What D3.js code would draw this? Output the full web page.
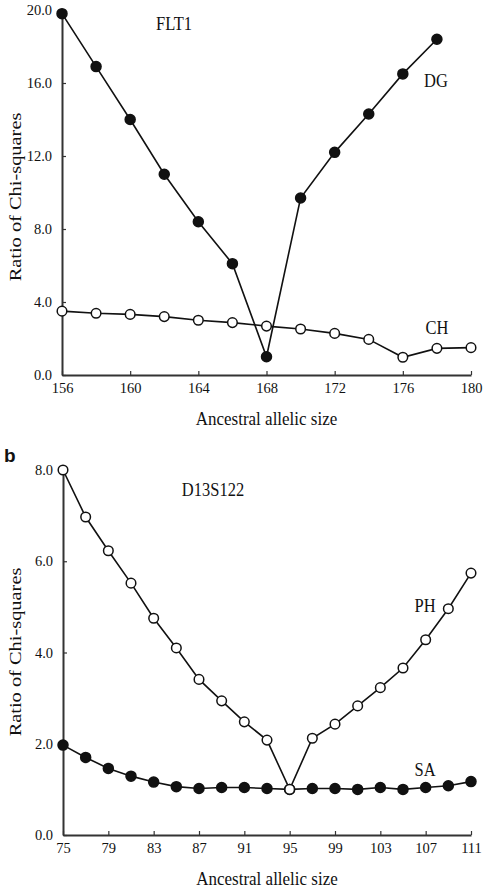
<!DOCTYPE html>
<html>
<head>
<meta charset="utf-8">
<script src="https://cdn.jsdelivr.net/npm/d3@7"></script>
<style>
  body { margin: 0; background: #fff; }
  svg text { font-family: "Liberation Serif", "Times New Roman", serif; fill: #111; }
</style>
</head>
<body>
<svg id="chart" width="484" height="892"></svg>
<script>
// panel a: FLT1
let flt1_sizes = [156, 158, 160, 162, 164, 166, 168, 170, 172, 174, 176, 178, 180]
let flt1_dg = [19.8, 16.9, 14.0, 11.0, 8.4, 6.1, 1.0, 9.7, 12.2, 14.3, 16.5, 18.4, null]
let flt1_ch = [3.5, 3.38, 3.32, 3.2, 3.0, 2.87, 2.68, 2.52, 2.28, 1.95, 0.97, 1.46, 1.5]
let flt1_xticks = [156, 160, 164, 168, 172, 176, 180]
let flt1_yticks = [0, 4, 8, 12, 16, 20]

// panel b: D13S122
let d13_sizes = [75, 77, 79, 81, 83, 85, 87, 89, 91, 93, 95, 97, 99, 101, 103, 105, 107, 109, 111]
let d13_ph = [8.0, 6.97, 6.23, 5.52, 4.75, 4.1, 3.41, 2.94, 2.48, 2.08, 1.0, 2.12, 2.43, 2.83, 3.23, 3.66, 4.28, 4.96, 5.74]
let d13_sa = [1.97, 1.70, 1.46, 1.29, 1.16, 1.06, 1.02, 1.04, 1.04, 1.02, 1.0, 1.02, 1.02, 1.0, 1.04, 1.0, 1.04, 1.08, 1.17]
let d13_xticks = [75, 79, 83, 87, 91, 95, 99, 103, 107, 111]
let d13_yticks = [0, 2, 4, 6, 8]

let svg = d3.select("#chart")
let stretch = 1.12  // the scanned figure is a bit taller than wide

function label(g, txt, x, y, size) {
  g.append("text")
    .attr("transform", `translate(${x},${y})scale(1,${stretch})`)
    .attr("text-anchor", "middle")
    .attr("font-size", size)
    .text(txt)
}

function draw_panel(cfg) {
  let x = d3.scaleLinear().domain(cfg.xdomain).range([cfg.left, cfg.right])
  let y = d3.scaleLinear().domain(cfg.ydomain).range([cfg.bottom, cfg.top])
  let g = svg.append("g")

  let xaxis = g.append("g")
    .attr("transform", `translate(0,${cfg.bottom})`)
    .call(d3.axisBottom(x).tickValues(cfg.xticks).tickSize(-4).tickSizeOuter(0).tickPadding(8).tickFormat(d3.format("d")))
  let yaxis = g.append("g")
    .attr("transform", `translate(${cfg.left},0)`)
    .call(d3.axisLeft(y).tickValues(cfg.yticks).tickSize(-4).tickSizeOuter(0).tickPadding(10).tickFormat(d3.format(".1f")))

  for (let ax of [xaxis, yaxis]) {
    ax.select(".domain").attr("stroke", "#333").attr("stroke-width", 2)
    ax.selectAll(".tick line").attr("stroke", "#333").attr("stroke-width", 1.2)
    ax.selectAll(".tick text").attr("font-size", 14.5).attr("font-family", "Liberation Serif").attr("fill", "#111")
  }

  label(g, "Ancestral allelic size", (cfg.left + cfg.right) / 2, cfg.bottom + 50, 17)

  g.append("text")
    .attr("transform", `translate(21,${cfg.ytitle})scale(1,1.2)rotate(-90)`)
    .attr("text-anchor", "middle")
    .attr("font-size", 17)
    .text("Ratio of Chi-squares")

  let line = d3.line()
    .defined(d => d[1] != null)
    .x(d => x(d[0]))
    .y(d => y(d[1]))

  // draw each series: line then markers
  cfg.series.forEach(s => {
    let pts = cfg.sizes.map((v, i) => [v, s.values[i]])
    g.append("path")
      .datum(pts)
      .attr("d", line)
      .attr("fill", "none")
      .attr("stroke", "#111")
      .attr("stroke-width", 1.6)
    g.append("g")
      .selectAll("circle")
      .data(pts.filter(d => d[1] != null))
      .enter()
      .append("circle")
      .attr("cx", d => x(d[0]))
      .attr("cy", d => y(d[1]))
      .attr("r", s.filled ? 5 : 4.8)
      .attr("fill", s.filled ? "#111" : "#fff")
      .attr("stroke", "#111")
      .attr("stroke-width", 1.5)
  })

  cfg.labels.forEach(l => label(g, l.text, l.x, l.y, 16.5))
}

draw_panel({
  xdomain: [156, 180], ydomain: [0, 20],
  left: 62, right: 471, top: 10, bottom: 375,
  xticks: flt1_xticks, yticks: flt1_yticks,
  sizes: flt1_sizes, ytitle: 197,
  series: [
    {values: flt1_ch, filled: false},
    {values: flt1_dg, filled: true}
  ],
  labels: [
    {text: "FLT1", x: 174, y: 30},
    {text: "DG", x: 436, y: 87},
    {text: "CH", x: 437, y: 334}
  ]
})

draw_panel({
  xdomain: [75, 111], ydomain: [0, 8],
  left: 63, right: 471, top: 470, bottom: 835,
  xticks: d13_xticks, yticks: d13_yticks,
  sizes: d13_sizes, ytitle: 652,
  series: [
    {values: d13_sa, filled: true},
    {values: d13_ph, filled: false}
  ],
  labels: [
    {text: "D13S122", x: 213, y: 496},
    {text: "PH", x: 425, y: 612},
    {text: "SA", x: 425, y: 776}
  ]
})

svg.append("text")
  .attr("x", 4)
  .attr("y", 462)
  .attr("font-weight", "bold")
  .attr("font-size", 19)
  .style("font-family", "Liberation Sans")
  .text("b")
</script>
</body>
</html>
